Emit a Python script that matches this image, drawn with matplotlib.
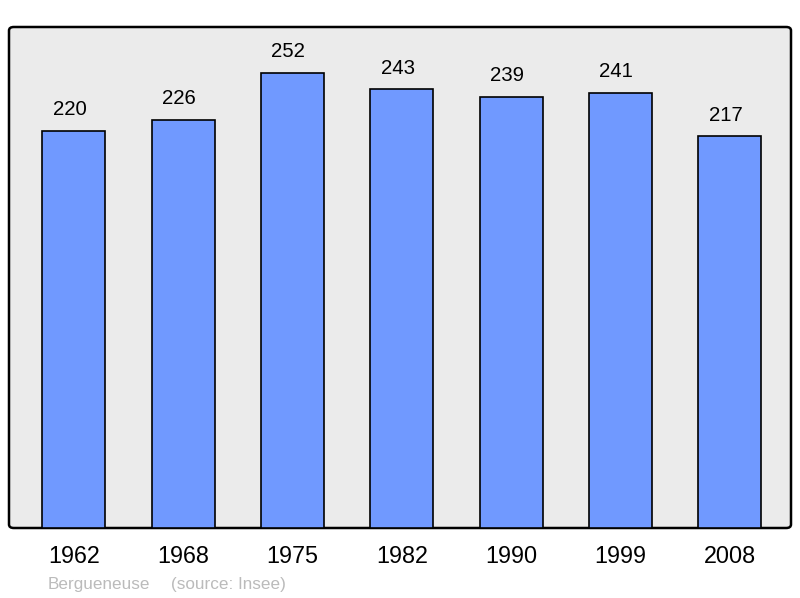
import matplotlib.pyplot as plt
from matplotlib.patches import FancyBboxPatch

years = ['1962', '1968', '1975', '1982', '1990', '1999', '2008']
population = [220, 226, 252, 243, 239, 241, 217]

plt.rcParams['font.family'] = ['Liberation Sans', 'DejaVu Sans']

fig = plt.figure(figsize=(8, 5.98), dpi=100)
W, H = 800, 598
left, right, top, bottom = 9, 791, 27, 528
ax = fig.add_axes([left / W, 1 - bottom / H, (right - left) / W, (bottom - top) / H])
ax.set_facecolor('none')
for s in ax.spines.values():
    s.set_visible(False)

# rounded panel behind the axes
panel = FancyBboxPatch((left / W, 1 - bottom / H), (right - left) / W, (bottom - top) / H,
                       boxstyle='round,pad=0,rounding_size=0.006', transform=fig.transFigure,
                       facecolor='#ebebeb', edgecolor='black', linewidth=1.8, zorder=-5)
fig.patches.append(panel)

x = range(len(years))
ax.bar(x, population, width=0.576, color='#7099ff', edgecolor='black', linewidth=1.2, zorder=2)
for i, v in enumerate(population):
    ax.annotate(str(v), (i, v), xytext=(-3, 8.5), textcoords='offset points',
                ha='center', va='bottom', fontsize=14.7)

ax.set_xlim(-0.594, 6.56)
ax.set_ylim(0, 277.6)
ax.set_yticks([])
ax.set_xticks(list(x))
ax.set_xticklabels(years, fontsize=16.8)
ax.tick_params(axis='x', length=0, pad=12)

fig.text(48 / W, 1 - 584 / H, 'Bergueneuse', color='#bbbbbb',
         fontsize=12.3, ha='left', va='center')
fig.text(171 / W, 1 - 584 / H, '(source: Insee)', color='#bbbbbb',
         fontsize=12.3, ha='left', va='center')

fig.savefig('out.png', dpi=100)
